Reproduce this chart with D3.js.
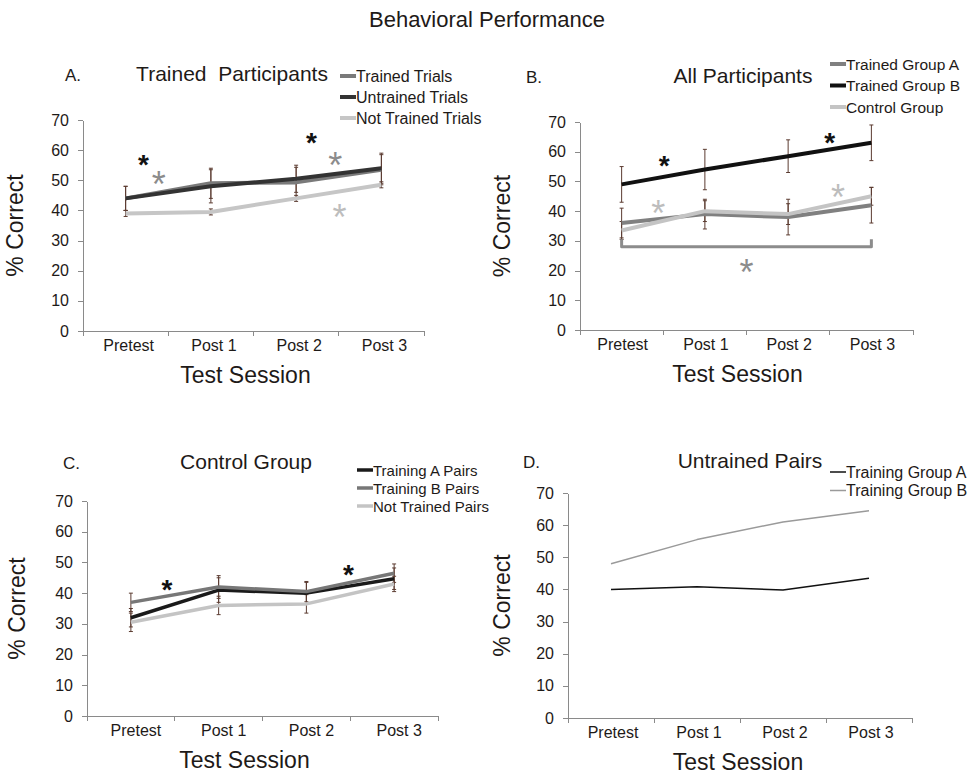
<!DOCTYPE html>
<html>
<head>
<meta charset="utf-8">
<title>Behavioral Performance</title>
<script src="https://d3js.org/d3.v7.min.js"></script>
<style>
  body { margin: 0; background: #fff; }
  svg text { font-family: "Liberation Sans", Arial, sans-serif; fill: #1e1a18; }
  .axis path, .axis line { stroke: #8a8a8a; shape-rendering: crispEdges; }
  .axis text { font-size: 16px; fill: #1e1a18; }
</style>
</head>
<body>
<script>

// ---- data ----
var sessions = ["Pretest", "Post 1", "Post 2", "Post 3"];
var yTicks = [0, 10, 20, 30, 40, 50, 60, 70];

// A. Trained participants
var aTrained     = [44, 49, 49.3, 53.5];
var aUntrained   = [44, 48, 50.5, 54];
var aNotTrained  = [39, 39.5, 44, 48.5];
var aTrainedErr    = [4, 5, 5, 5];
var aUntrainedErr  = [4, 5.5, 4.5, 5];
var aNotTrainedErr = [1, 1, 1, 1];

// B. All participants
var bGroupA  = [36, 39, 38, 42];
var bGroupB  = [49, 54, 58.5, 63];
var bControl = [33.5, 40, 39, 45];
var bGroupAErr  = [5, 5, 6, 6];
var bGroupBErr  = [6, 6.8, 5.5, 6];
var bControlErr = [3, 3.5, 3.5, 3];

// C. Control group
var cPairsA   = [32, 41, 40, 44.7];
var cPairsB   = [37, 42, 40.5, 46.5];
var cNotPairs = [30.5, 36, 36.5, 43];
var cPairsAErr   = [3, 4, 3.5, 3.5];
var cPairsBErr   = [3, 3.7, 3.3, 3];
var cNotPairsErr = [3, 3, 3, 2.5];

// D. Untrained pairs
var dGroupA = [40, 40.8, 39.8, 43.5];
var dGroupB = [48, 55.5, 61, 64.5];

// significance marks: [session index position, value]
var aStars = [[0.21, 57.5], [0.39, 51.5], [2.18, 65], [2.46, 58], [2.51, 40.7]];
var bStars = [[0.51, 57.7], [2.5, 65.4], [0.44, 42.3], [2.6, 47.6], [1.5, 22.5]];
var cStars = [[0.41, 43.5], [2.48, 48.4]];
var bBracket = [[0, 30.5], [0, 28], [3, 28], [3, 30.5]];

var w = 971, h = 774;

var svg = d3.select("body")
  .append("svg")
  .attr("width", w)
  .attr("height", h);

svg.append("text")
  .attr("x", 487)
  .attr("y", 27)
  .attr("text-anchor", "middle")
  .attr("font-size", "22px")
  .text("Behavioral Performance");

function drawPanel(p) {
  var g = svg.append("g")
    .attr("transform", "translate(" + p.left + "," + p.top + ")");

  var xBand = d3.scaleBand().domain(sessions).range([0, p.width]);
  var xPos = d3.scaleLinear().domain([-0.5, 3.5]).range([0, p.width]);
  var yScale = d3.scaleLinear().domain([0, 70]).range([p.height, 0]);

  // y axis
  g.append("g")
    .attr("class", "axis")
    .call(d3.axisLeft(yScale).tickValues(yTicks).tickSize(5).tickPadding(9).tickSizeOuter(0));

  // x axis: labels centred in bands, ticks on band edges
  var xg = g.append("g")
    .attr("class", "axis")
    .attr("transform", "translate(0," + p.height + ")")
    .call(d3.axisBottom(xBand).tickSize(0).tickPadding(9));
  xg.selectAll(".tick text").attr("dx", p.labelShift);
  xg.selectAll("line.edge")
    .data([-0.5, 0.5, 1.5, 2.5, 3.5])
    .enter()
    .append("line")
    .attr("class", "edge")
    .attr("x1", function(d) { return xPos(d); })
    .attr("x2", function(d) { return xPos(d); })
    .attr("y1", 0)
    .attr("y2", 5);

  // axis titles
  g.append("text")
    .attr("x", p.width / 2 + p.xTitleShift)
    .attr("y", p.height + 52)
    .attr("text-anchor", "middle")
    .attr("font-size", "23px")
    .text("Test Session");

  g.append("text")
    .attr("transform", "translate(" + p.yTitleX + "," + (p.height / 2) + ") rotate(-90)")
    .attr("text-anchor", "middle")
    .attr("font-size", "23px")
    .text("% Correct");

  // panel letter and title
  svg.append("text")
    .attr("x", p.letterX)
    .attr("y", p.titleY)
    .attr("font-size", "17px")
    .text(p.letter);

  svg.append("text")
    .attr("x", p.titleX)
    .attr("y", p.titleY)
    .attr("text-anchor", "middle")
    .attr("font-size", "21px")
    .attr("xml:space", "preserve")
    .text(p.title);

  var line = d3.line()
    .x(function(d, i) { return xPos(i); })
    .y(function(d) { return yScale(d); });

  // error bars first, lines on top
  p.series.forEach(function(s) {
    if (!s.err) return;
    var eb = g.append("g").attr("stroke", "#5b3b30").attr("stroke-width", 1);
    s.values.forEach(function(v, i) {
      var x = xPos(i);
      eb.append("line").attr("x1", x).attr("x2", x)
        .attr("y1", yScale(v - s.err[i])).attr("y2", yScale(v + s.err[i]));
      eb.append("line").attr("x1", x - 2).attr("x2", x + 2)
        .attr("y1", yScale(v - s.err[i])).attr("y2", yScale(v - s.err[i]));
      eb.append("line").attr("x1", x - 2).attr("x2", x + 2)
        .attr("y1", yScale(v + s.err[i])).attr("y2", yScale(v + s.err[i]));
    });
  });

  p.series.forEach(function(s) {
    g.append("path")
      .datum(s.values)
      .attr("fill", "none")
      .attr("stroke", s.color)
      .attr("stroke-width", p.lineWidth)
      .attr("stroke-linejoin", "round")
      .attr("d", line);
  });

  // bracket
  if (p.bracket) {
    g.append("path")
      .datum(p.bracket)
      .attr("fill", "none")
      .attr("stroke", "#8c8c8c")
      .attr("stroke-width", 3)
      .attr("stroke-linejoin", "round")
      .attr("d", d3.line()
        .x(function(d) { return xPos(d[0]); })
        .y(function(d) { return yScale(d[1]); }));
  }

  // asterisks
  if (p.stars) {
    g.selectAll("text.star")
      .data(p.stars)
      .enter()
      .append("text")
      .attr("class", "star")
      .attr("x", function(d) { return xPos(d[0]); })
      .attr("y", function(d) { return yScale(d[1]); })
      .attr("dy", "0.6em")
      .attr("text-anchor", "middle")
      .attr("font-size", function(d, i) { return p.starColors[i] === "#111" ? "28px" : "36px"; })
      .attr("font-weight", function(d, i) { return p.starColors[i] === "#111" ? "bold" : "normal"; })
      .style("fill", function(d, i) { return p.starColors[i]; })
      .text("*");
  }

  // legend
  var lg = svg.append("g")
    .attr("transform", "translate(" + p.legendX + "," + p.legendY + ")");
  p.series.forEach(function(s, i) {
    var row = lg.append("g").attr("transform", "translate(0," + (i * p.legendStep) + ")");
    row.append("line")
      .attr("x1", 0).attr("x2", 16)
      .attr("y1", 0).attr("y2", 0)
      .attr("stroke", s.color)
      .attr("stroke-width", p.legendWidth);
    row.append("text")
      .attr("x", 16)
      .attr("y", 5.5)
      .attr("font-size", p.legendFont)
      .text(s.name);
  });
}

drawPanel({
  left: 83, top: 120, width: 341, height: 211,
  yTitleX: -60, xTitleShift: -8, labelShift: 3,
  letter: "A.", letterX: 65, title: "Trained  Participants", titleX: 232, titleY: 81,
  lineWidth: 4,
  series: [
    { name: "Trained Trials", values: aTrained, err: aTrainedErr, color: "#7a7a7a" },
    { name: "Untrained Trials", values: aUntrained, err: aUntrainedErr, color: "#333333" },
    { name: "Not Trained Trials", values: aNotTrained, err: aNotTrainedErr, color: "#c6c6c6" }
  ],
  stars: aStars, starColors: ["#111", "#8c8c8c", "#111", "#8c8c8c", "#bdbdbd"],
  legendX: 340, legendY: 76, legendStep: 21, legendWidth: 4, legendFont: "16px"
});

drawPanel({
  left: 580, top: 122, width: 333, height: 208,
  yTitleX: -70, xTitleShift: -9, labelShift: 1,
  letter: "B.", letterX: 526, title: "All Participants", titleX: 743, titleY: 83,
  lineWidth: 4,
  series: [
    { name: "Trained Group A", values: bGroupA, err: bGroupAErr, color: "#808080" },
    { name: "Trained Group B", values: bGroupB, err: bGroupBErr, color: "#111111" },
    { name: "Control Group", values: bControl, err: bControlErr, color: "#c4c4c4" }
  ],
  bracket: bBracket,
  stars: bStars, starColors: ["#111", "#111", "#bdbdbd", "#bdbdbd", "#8c8c8c"],
  legendX: 830, legendY: 64, legendStep: 21.5, legendWidth: 4, legendFont: "15.5px"
});

drawPanel({
  left: 87, top: 501, width: 351, height: 215,
  yTitleX: -62, xTitleShift: -18, labelShift: 5,
  letter: "C.", letterX: 63, title: "Control Group", titleX: 246, titleY: 469,
  lineWidth: 3.5,
  series: [
    { name: "Training A Pairs", values: cPairsA, err: cPairsAErr, color: "#1a1a1a" },
    { name: "Training B Pairs", values: cPairsB, err: cPairsBErr, color: "#777777" },
    { name: "Not Trained Pairs", values: cNotPairs, err: cNotPairsErr, color: "#c4c4c4" }
  ],
  stars: cStars, starColors: ["#111", "#111"],
  legendX: 357, legendY: 470, legendStep: 18, legendWidth: 3.5, legendFont: "15px"
});

drawPanel({
  left: 568, top: 493, width: 344, height: 225,
  yTitleX: -58, xTitleShift: -2, labelShift: 2,
  letter: "D.", letterX: 523, title: "Untrained Pairs", titleX: 750, titleY: 468,
  lineWidth: 1.5,
  series: [
    { name: "Training Group A", values: dGroupA, color: "#111111" },
    { name: "Training Group B", values: dGroupB, color: "#9a9a9a" }
  ],
  legendX: 830, legendY: 472, legendStep: 18.5, legendWidth: 1.5, legendFont: "16px"
});

</script>
</body>
</html>
